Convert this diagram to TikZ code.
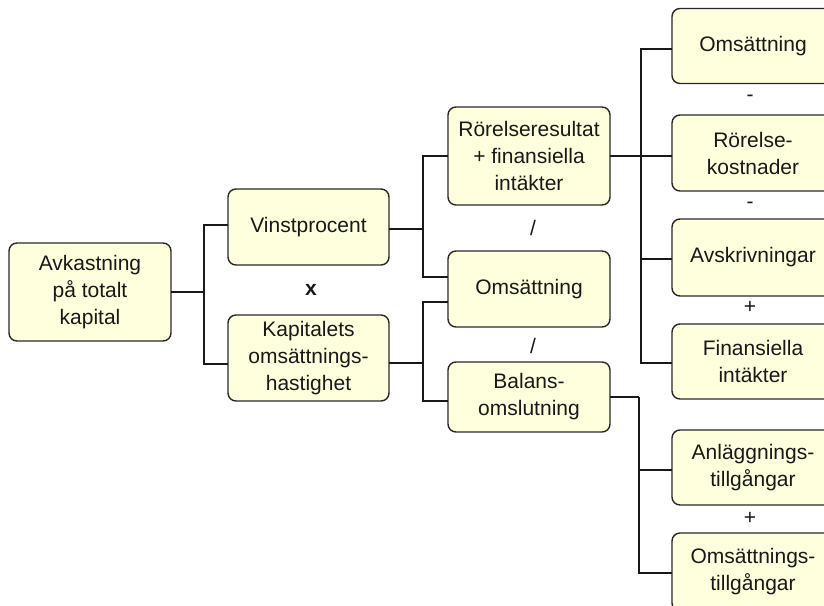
\documentclass[tikz,border=0pt]{standalone}
\usepackage{fontspec}
\setmainfont{Liberation Sans}
\definecolor{boxfill}{RGB}{255,255,221}
\definecolor{boxline}{RGB}{40,40,40}
\tikzset{
  kbox/.style={draw=boxline, line width=1.4pt, fill=boxfill, rounded corners=8pt,
    inner sep=0pt, outer sep=0pt, align=center, text=black!90,
    font=\fontsize{21}{27}\selectfont},
  conn/.style={draw=black!90, line width=1.5pt},
  opr/.style={inner sep=0pt, font=\fontsize{21}{27}\selectfont, text=black!90}
}
\begin{document}
\begin{tikzpicture}[x=1pt,y=-1pt]
\useasboundingbox (0,0) rectangle (824,605);
\clip (0,0) rectangle (824,605);
\fill[white] (0,0) rectangle (824,605);
% boxes
\node[kbox, minimum width=162, minimum height=98] (A) at (90,292) {Avkastning\\på totalt\\kapital};
\node[kbox, minimum width=161, minimum height=76] (V) at (308.5,227) {Vinstprocent};
\node[kbox, minimum width=161, minimum height=86] (K) at (308.5,358) {Kapitalets\\omsättnings-\\hastighet};
\node[kbox, minimum width=162, minimum height=98] (R) at (529,156) {Rörelseresultat\\+ finansiella\\intäkter};
\node[kbox, minimum width=162, minimum height=76] (O) at (529,289) {Omsättning};
\node[kbox, minimum width=162, minimum height=70] (B) at (529,397) {Balans-\\omslutning};
\node[kbox, minimum width=162, minimum height=75] (O2) at (753,46) {Omsättning};
\node[kbox, minimum width=162, minimum height=76] (RK) at (753,153) {Rörelse-\\kostnader};
\node[kbox, minimum width=162, minimum height=77] (Av) at (753,257.5) {Avskrivningar};
\node[kbox, minimum width=162, minimum height=75] (Fi) at (753,361.5) {Finansiella\\intäkter};
\node[kbox, minimum width=162, minimum height=75] (An) at (753,467.5) {Anläggnings-\\tillgångar};
\node[kbox, minimum width=162, minimum height=78] (Om) at (753,572) {Omsättnings-\\tillgångar};
% operators
\node[opr] (op1) at (311,290) {\textbf{x}};
\node[opr] (op2) at (533,228) {/};
\node[opr] (op3) at (533,346) {/};
\node[opr] (op4) at (750,98) {-};
\node[opr] (op5) at (750,205) {-};
\node[opr] (op6) at (750,307) {+};
\node[opr] (op7) at (750,518) {+};
% connectors
\draw[conn] (A.east) -- ++(33,0) coordinate (jA);
\draw[conn] ([yshift=2pt]V.west) -| (jA) |- ([yshift=-6pt]K.west);
\draw[conn] ([yshift=-2pt]V.east) -- ++(34,0) coordinate (jV);
\draw[conn] (R.west) -| (jV) |- ([yshift=12pt]O.west);
\draw[conn] ([yshift=-5pt]K.east) -- ++(34,0) coordinate (jK);
\draw[conn] ([yshift=-13pt]O.west) -| (jK) |- ([yshift=-4pt]B.west);
\draw[conn] (R.east) -- (R.east -| RK.west);
\coordinate (jR) at ([xshift=31pt]R.east);
\draw[conn] ([yshift=-3pt]O2.west) -| (jR) |- ([yshift=-1.5pt]Fi.west);
\draw[conn] ([yshift=-1.5pt]Av.west) -- ([yshift=-1.5pt]Av.west -| jR);
\draw[conn] (B.east) -- ++(29,0) coordinate (jB);
\draw[conn] (jB) |- ([yshift=-2.5pt]An.west);
\draw[conn] (jB) |- ([yshift=-1pt]Om.west);
\end{tikzpicture}
\end{document}
